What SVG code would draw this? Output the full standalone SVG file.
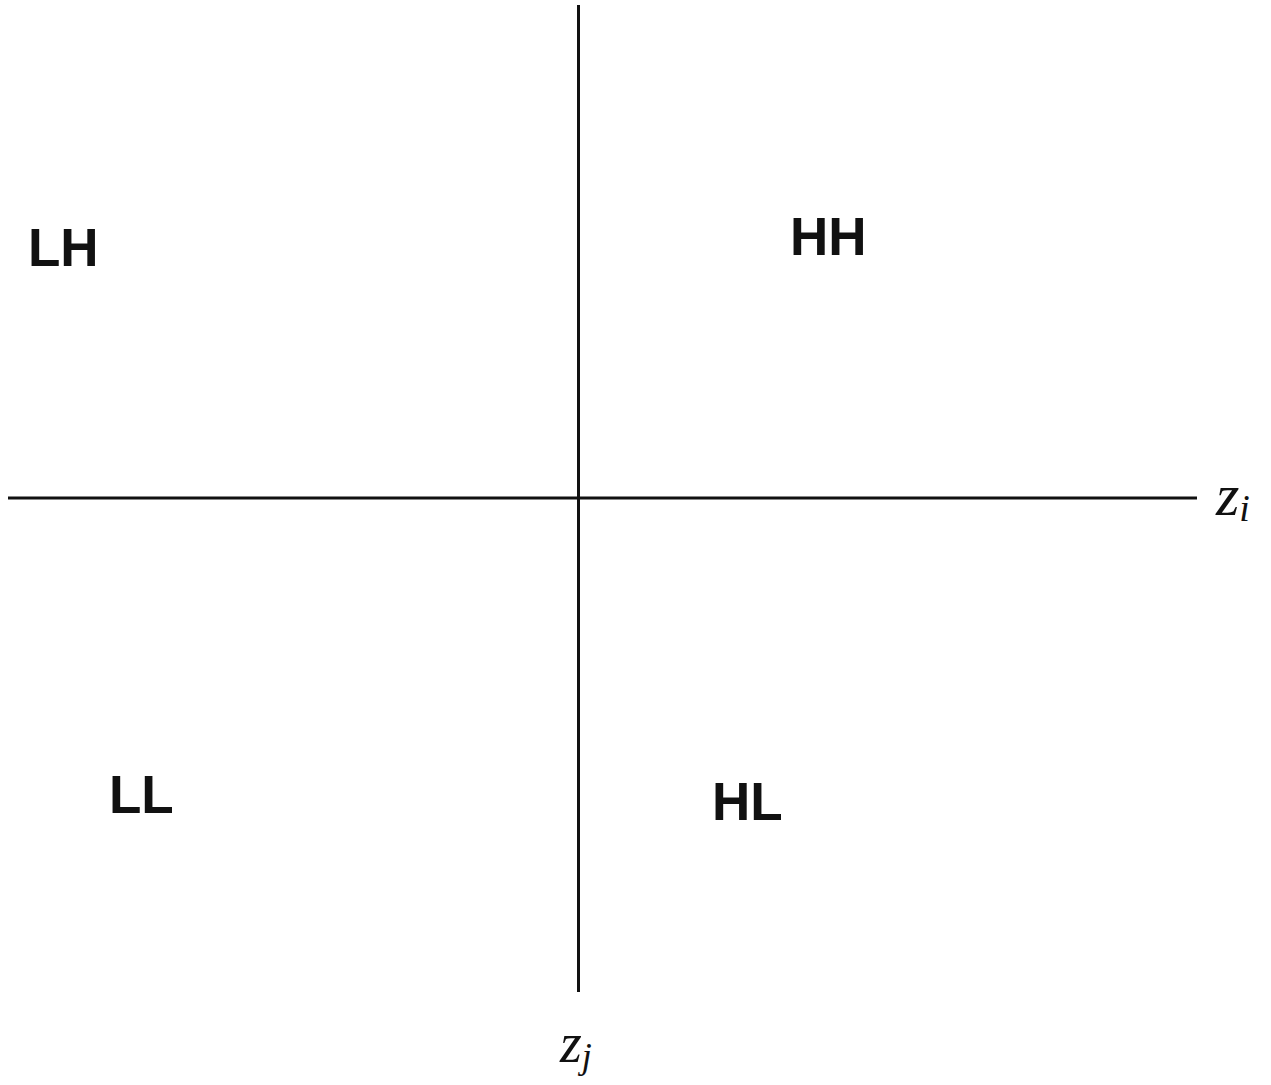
<svg xmlns="http://www.w3.org/2000/svg" width="1271" height="1085" viewBox="0 0 1271 1085">
<style>
.lbl{font-family:"Liberation Sans",Arial,sans-serif;font-weight:bold;font-size:53px;fill:#111}
.ax{font-family:"Liberation Serif","Times New Roman",serif;font-style:italic;fill:#111}
</style>
<rect width="1271" height="1085" fill="#fff"/>
<g id="axes" stroke="#111" stroke-width="3">
<line x1="8" y1="498" x2="1197" y2="498"/>
<line x1="578.5" y1="5" x2="578.5" y2="992"/>
</g>
<g id="LH"><text class="lbl" x="28" y="266">LH</text></g>
<g id="HH"><text class="lbl" x="790" y="255">HH</text></g>
<g id="LL"><text class="lbl" x="109" y="813">LL</text></g>
<g id="HL"><text class="lbl" x="712" y="820">HL</text></g>
<g id="zi"><text class="ax" x="1216" y="515" font-size="60">z<tspan font-size="38" dy="6">i</tspan></text></g>
<g id="zj"><text class="ax" x="560" y="1062" font-size="56">z<tspan font-size="36" dy="6">j</tspan></text></g>
</svg>
